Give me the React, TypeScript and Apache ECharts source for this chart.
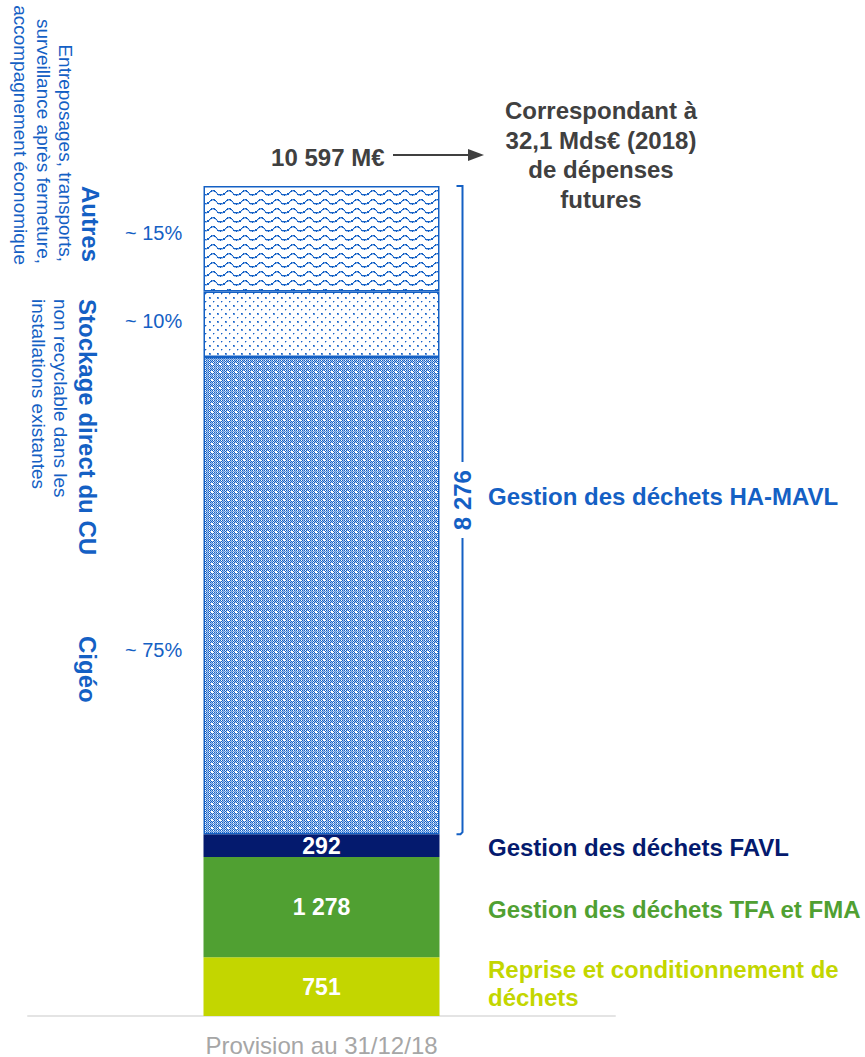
import React, { useEffect, useRef } from 'react';
import * as echarts from 'echarts';

const categories = ['Provision au 31/12/18'];
const segmentNames = [
  'Reprise et conditionnement de déchets',
  'Gestion des déchets TFA et FMA',
  'Gestion des déchets FAVL',
  'Cigéo',
  'Stockage direct du CU',
  'Autres',
];
const segmentValues = [751, 1278, 292, 6093, 836, 1347];
const segmentValueLabels = ['751', '1 278', '292', '', '', ''];
const totalValue = 10597;
const totalLabel = '10 597 M€';
const haMavlLabel = '8 276';
const shareLabels = ['~ 75%', '~ 10%', '~ 15%'];

const FONT = '"Liberation Sans", Arial, sans-serif';
const BLUE = '#1460C4';
const MID = '#5C92DC';
const LIGHT = '#A9C6EE';
const GREY_TXT = '#404040';
const solidColors = ['#C3D600', '#50A032', '#041A6E'];

function makeTile(w: number, h: number, fn: (x: number, y: number) => string | null) {
  const c = document.createElement('canvas');
  c.width = w;
  c.height = h;
  const ctx = c.getContext('2d')!;
  ctx.fillStyle = '#ffffff';
  ctx.fillRect(0, 0, w, h);
  for (let y = 0; y < h; y++) {
    for (let x = 0; x < w; x++) {
      const col = fn(x, y);
      if (col) {
        ctx.fillStyle = col;
        ctx.fillRect(x, y, 1, 1);
      }
    }
  }
  return c;
}

function wavePattern() {
  const ys = [5, 4, 3, 2, 2, 2, 2, 3, 4, 5, 6, 6, 6, 6, 6, 5];
  return makeTile(16, 9, (x, y) => {
    const y0 = ys[x] - 1;
    if (y === y0) return x % 5 === 4 ? MID : BLUE;
    if (y === y0 + 1) return x % 3 === 0 ? BLUE : LIGHT;
    return null;
  });
}

function dotPattern() {
  return makeTile(8, 8, (x, y) => {
    if (x === 1 && y === 1) return BLUE;
    if ((x === 2 && y === 1) || (x === 1 && y === 2)) return MID;
    if (x === 2 && y === 2) return MID;
    if (x === 5 && y === 5) return BLUE;
    if ((x === 6 && y === 5) || (x === 5 && y === 6)) return LIGHT;
    return null;
  });
}

function checkPattern() {
  return makeTile(8, 8, (x, y) => {
    const hole = (x === 3 || x === 4) && (y === 3 || y === 4);
    if (hole) return '#ffffff';
    if (x === 7 || y === 7) return (x + y) % 2 === 0 ? MID : LIGHT;
    return (x + y) % 2 === 0 ? BLUE : (x % 4 === 1 ? '#ffffff' : LIGHT);
  });
}

export default function App() {
  const ref = useRef<HTMLDivElement>(null);

  useEffect(() => {
    const el = ref.current!;
    const chart = echarts.init(el, null, { renderer: 'svg' });
    const patterns = [checkPattern(), dotPattern(), wavePattern()];

    const series = segmentNames.map((name, i) => ({
      name,
      type: 'bar',
      stack: 'total',
      barWidth: 236,
      data: [segmentValues[i]],
      itemStyle:
        i < 3
          ? { color: solidColors[i] }
          : {
              color: { image: patterns[i - 3], repeat: 'repeat' },
              borderColor: BLUE,
              borderWidth: 1.5,
            },
      label: {
        show: segmentValueLabels[i] !== '',
        position: 'inside',
        formatter: () => segmentValueLabels[i],
        color: '#ffffff',
        fontWeight: 'bold',
        fontSize: 23,
        fontFamily: FONT,
      },
      emphasis: { disabled: true },
    }));

    chart.setOption({
      animation: false,
      grid: { left: 28, right: 250, top: 186, bottom: 41, containLabel: false },
      xAxis: {
        type: 'category',
        data: categories,
        axisLine: { show: true, lineStyle: { color: '#E4E4E4', width: 2 } },
        axisTick: { show: false },
        axisLabel: { color: '#A6A6A6', fontSize: 24, fontFamily: FONT, margin: 17 },
      },
      yAxis: { type: 'value', min: 0, max: totalValue, show: false, splitLine: { show: false } },
      series,
    });

    const py = (v: number) => chart.convertToPixel({ yAxisIndex: 0 }, v) as number;
    const cx = chart.convertToPixel({ xAxisIndex: 0 }, 0) as number;
    const barRight = cx + 118;
    const barLeft = cx - 118;
    const cum: number[] = [0];
    segmentValues.forEach((v, i) => cum.push(cum[i] + v));
    const mid = (i: number) => (py(cum[i]) + py(cum[i + 1])) / 2;

    const bx = barRight + 23;
    const bTop = py(cum[6]);
    const bBot = py(cum[3]);
    const bMid = (bTop + bBot) / 2 - 10;

    const txt = (text: string, x: number, y: number, opts: any = {}) => ({
      type: 'text',
      x,
      y,
      rotation: opts.rotation || 0,
      style: {
        text,
        fill: opts.fill || BLUE,
        fontSize: opts.fontSize || 24,
        fontWeight: opts.bold ? 'bold' : 'normal',
        fontFamily: FONT,
        align: opts.align || 'left',
        verticalAlign: opts.verticalAlign || 'middle',
        lineHeight: opts.lineHeight,
      },
      silent: true,
    });

    const CW = -Math.PI / 2;
    const graphic: any[] = [
      {
        type: 'polyline',
        shape: { points: [[bx - 6, bTop], [bx, bTop], [bx, bMid - 38]] },
        style: { stroke: BLUE, lineWidth: 2, fill: null },
      },
      {
        type: 'polyline',
        shape: { points: [[bx, bMid + 38], [bx, bBot - 2], [bx - 2, bBot], [bx - 6, bBot]] },
        style: { stroke: BLUE, lineWidth: 2, fill: null },
      },
      txt(haMavlLabel, bx, bMid, { bold: true, align: 'center', rotation: Math.PI / 2 }),
      txt('Gestion des déchets HA-MAVL', 488, bMid - 4, { bold: true }),
      txt(segmentNames[2], 488, mid(2) + 2, { bold: true, fill: solidColors[2] }),
      txt(segmentNames[1], 488, mid(1) + 2, { bold: true, fill: solidColors[1] }),
      txt('Reprise et conditionnement de\ndéchets', 488, mid(0) - 3, {
        bold: true,
        fill: solidColors[0],
        lineHeight: 28,
      }),
      txt(totalLabel, barLeft + 181, 157, { bold: true, fill: GREY_TXT, align: 'right' }),
      {
        type: 'line',
        shape: { x1: 393, y1: 155, x2: 470, y2: 155 },
        style: { stroke: GREY_TXT, lineWidth: 2 },
      },
      {
        type: 'polygon',
        shape: { points: [[468, 149], [484, 155], [468, 161]] },
        style: { fill: GREY_TXT },
      },
      txt('Correspondant à\n32,1 Mds€ (2018)\nde dépenses\nfutures', 601, 155, {
        bold: true,
        fill: GREY_TXT,
        align: 'center',
        lineHeight: 29.5,
      }),
      txt(shareLabels[2], 125, 233, { fontSize: 20 }),
      txt(shareLabels[1], 125, 321, { fontSize: 20 }),
      txt(shareLabels[0], 125, 650, { fontSize: 20 }),
      txt('Autres', 90, 262, { bold: true, rotation: CW, align: 'right' }),
      txt('Entreposages, transports,', 65, 262, { fontSize: 19, rotation: CW, align: 'right' }),
      txt('surveillance après fermeture,', 43, 264, { fontSize: 19, rotation: CW, align: 'right' }),
      txt('accompagnement économique', 20, 265, { fontSize: 19, rotation: CW, align: 'right' }),
      txt('Stockage direct du CU', 87, 299, { bold: true, rotation: CW }),
      txt('non recyclable dans les', 60, 299, { fontSize: 19, rotation: CW }),
      txt('installations existantes', 38, 299, { fontSize: 19, rotation: CW }),
      txt('Cigéo', 87, 636, { bold: true, rotation: CW }),
    ];

    chart.setOption({ graphic });

    return () => chart.dispose();
  }, []);

  return (
    <div
      ref={ref}
      style={{ position: 'absolute', left: 0, top: 0, width: 865, height: 1057, background: '#ffffff' }}
    />
  );
}
